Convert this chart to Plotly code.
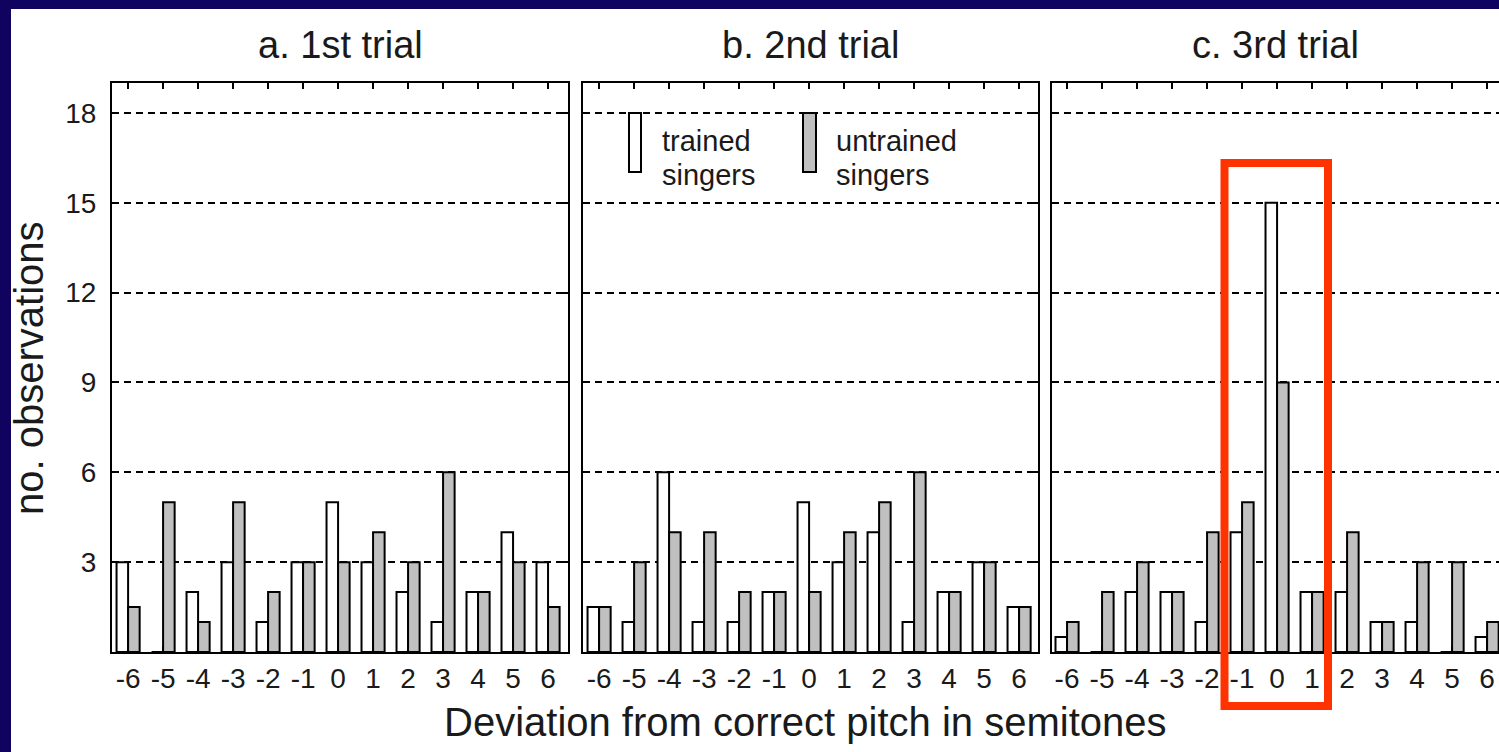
import plotly.graph_objects as go

# ---- data ----
deviation = [-6, -5, -4, -3, -2, -1, 0, 1, 2, 3, 4, 5, 6]
trial1_trained = [3, 0, 2, 3, 1, 3, 5, 3, 2, 1, 2, 4, 3]
trial1_untrained = [1.5, 5, 1, 5, 2, 3, 3, 4, 3, 6, 2, 3, 1.5]
trial2_trained = [1.5, 1, 6, 1, 1, 2, 5, 3, 4, 1, 2, 3, 1.5]
trial2_untrained = [1.5, 3, 4, 4, 2, 2, 2, 4, 5, 6, 2, 3, 1.5]
trial3_trained = [0.5, 0, 2, 2, 1, 4, 15, 2, 2, 1, 1, 0, 0.5]
trial3_untrained = [1, 2, 3, 2, 4, 5, 9, 2, 4, 1, 3, 3, 1]
panel_titles = ["a. 1st trial", "b. 2nd trial", "c. 3rd trial"]
y_ticks = [3, 6, 9, 12, 15, 18]
series_names = ["trained singers", "untrained singers"]

W, H = 1499, 752
FONT = "Liberation Sans, Arial, sans-serif"
TXT = "#1a1a1a"
NAVY = "#0f035f"


def px(x):
    return x / W


def py(y):
    return 1 - y / H


fig = go.Figure()
trials = [(trial1_trained, trial1_untrained),
          (trial2_trained, trial2_untrained),
          (trial3_trained, trial3_untrained)]
for i, (tr, un) in enumerate(trials):
    sfx = "" if i == 0 else str(i + 1)
    fig.add_trace(go.Bar(x=deviation, y=tr, name=series_names[0],
                         marker=dict(color="white", line=dict(color="black", width=2)),
                         xaxis="x" + sfx, yaxis="y" + sfx, showlegend=False))
    fig.add_trace(go.Bar(x=deviation, y=un, name=series_names[1],
                         marker=dict(color="#c0c0c0", line=dict(color="black", width=2)),
                         xaxis="x" + sfx, yaxis="y" + sfx, showlegend=False))

x_domains = [[px(112), px(568)], [px(583), px(1038)], [px(1052), 1.0]]
x_ranges = [[-6.46, 6.57], [-6.46, 6.54], [-6.43, 6.34]]
y_dom = [py(652), py(83)]

layout = dict(
    width=W, height=H,
    margin=dict(l=0, r=0, t=0, b=0),
    paper_bgcolor="white", plot_bgcolor="white",
    barmode="group", bargap=0.34, bargroupgap=0,
    font=dict(family=FONT, color=TXT),
    showlegend=False,
)
for i in range(3):
    sfx = "" if i == 0 else str(i + 1)
    layout["xaxis" + sfx] = dict(
        domain=x_domains[i], range=x_ranges[i], anchor="y" + sfx,
        tickmode="array", tickvals=deviation, ticktext=[str(v) for v in deviation],
        ticks="inside", ticklen=6, tickwidth=2, tickcolor="black",
        showline=True, linecolor="black", linewidth=2, mirror="ticks",
        showgrid=False, zeroline=False,
        tickfont=dict(size=28, color=TXT, family=FONT),
    )
    layout["yaxis" + sfx] = dict(
        domain=y_dom, range=[0, 19], anchor="x" + sfx,
        tickmode="array", tickvals=y_ticks,
        ticktext=[str(v) for v in y_ticks] if i == 0 else [""] * len(y_ticks),
        showticklabels=(i == 0),
        ticks="inside", ticklen=6, tickwidth=2, tickcolor="black",
        showline=True, linecolor="black", linewidth=2,
        mirror=("ticks" if i < 2 else False),
        showgrid=True, gridcolor="black", gridwidth=2, griddash="7px,5px",
        zeroline=False,
        tickfont=dict(size=28, color=TXT, family=FONT),
        ticklabelstandoff=8,
    )
fig.update_layout(**layout)

annotations = []
title_x = [340, 810, 1275]
for t, xc in zip(panel_titles, title_x):
    annotations.append(dict(text=t, x=px(xc), y=py(45), xref="paper", yref="paper",
                            xanchor="center", yanchor="middle", showarrow=False,
                            font=dict(size=38, color=TXT, family=FONT)))
annotations.append(dict(text="Deviation from correct pitch in semitones", x=px(806), y=py(722),
                        xref="paper", yref="paper", xanchor="center", yanchor="middle",
                        showarrow=False, font=dict(size=40, color=TXT, family=FONT)))
annotations.append(dict(text="no. observations", x=px(29), y=py(368), textangle=-90,
                        xref="paper", yref="paper", xanchor="center", yanchor="middle",
                        showarrow=False, font=dict(size=40, color=TXT, family=FONT)))
# legend text (two tight lines per label)
for (word1, word2), xl in [(("trained", "singers"), 660), (("untrained", "singers"), 834)]:
    annotations.append(dict(text=word1, x=px(xl), y=py(141), xref="paper", yref="paper",
                            xanchor="left", yanchor="middle", showarrow=False,
                            font=dict(size=29, color=TXT, family=FONT)))
    annotations.append(dict(text=word2, x=px(xl), y=py(175), xref="paper", yref="paper",
                            xanchor="left", yanchor="middle", showarrow=False,
                            font=dict(size=29, color=TXT, family=FONT)))
fig.update_layout(annotations=annotations)

shapes = [
    # navy frame (top and left)
    dict(type="rect", xref="paper", yref="paper", x0=0, x1=1, y0=py(9), y1=1,
         fillcolor=NAVY, line=dict(width=0), layer="above"),
    dict(type="rect", xref="paper", yref="paper", x0=0, x1=px(11), y0=0, y1=1,
         fillcolor=NAVY, line=dict(width=0), layer="above"),
    # legend symbols
    dict(type="rect", xref="paper", yref="paper", x0=px(629), x1=px(641), y0=py(172), y1=py(113),
         fillcolor="white", line=dict(color="black", width=2), layer="above"),
    dict(type="rect", xref="paper", yref="paper", x0=px(803), x1=px(816), y0=py(172), y1=py(113),
         fillcolor="#c0c0c0", line=dict(color="black", width=2), layer="above"),
    # red highlight box
    dict(type="rect", xref="paper", yref="paper", x0=px(1224.5), x1=px(1328), y0=py(706), y1=py(163),
         fillcolor="rgba(0,0,0,0)", line=dict(color="#ff3300", width=8), layer="above"),
]
fig.update_layout(shapes=shapes)

fig.write_html("out.html")
